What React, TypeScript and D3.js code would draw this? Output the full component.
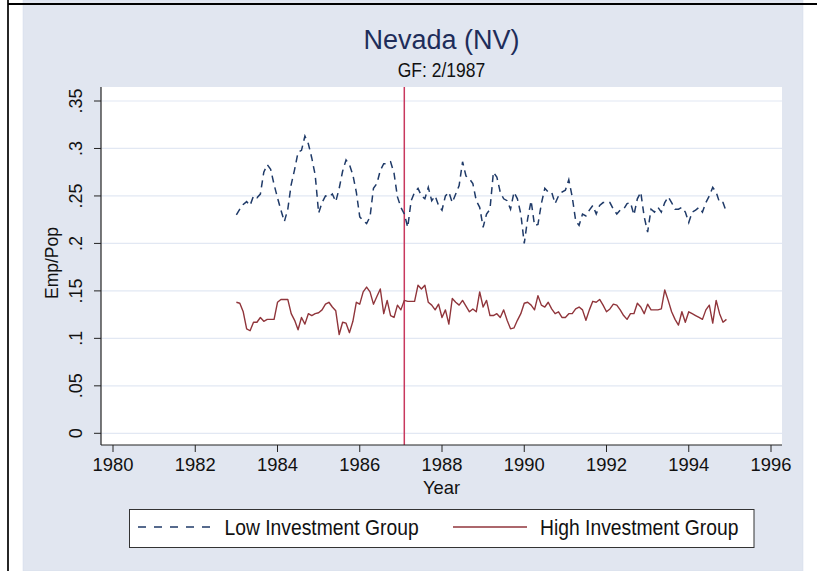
import * as d3 from 'd3';

// Monthly Emp/Pop, Jan 1983 .. Dec 1994
const startYear = 1983;
const lowGroup = [
  0.230, 0.236, 0.241, 0.244, 0.240, 0.250, 0.248, 0.252, 0.275, 0.283, 0.278, 0.262,
  0.248, 0.235, 0.223, 0.236, 0.262, 0.278, 0.296, 0.298, 0.313, 0.305, 0.290, 0.272,
  0.232, 0.243, 0.250, 0.249, 0.252, 0.244, 0.258, 0.276, 0.288, 0.283, 0.272, 0.254,
  0.228, 0.224, 0.221, 0.228, 0.258, 0.263, 0.277, 0.284, 0.284, 0.286, 0.274, 0.249,
  0.238, 0.231, 0.217, 0.245, 0.254, 0.258, 0.250, 0.247, 0.259, 0.245, 0.250, 0.240,
  0.235, 0.250, 0.254, 0.243, 0.252, 0.261, 0.286, 0.271, 0.268, 0.263, 0.245, 0.238,
  0.217, 0.231, 0.236, 0.275, 0.270, 0.254, 0.247, 0.245, 0.236, 0.254, 0.247, 0.231,
  0.200, 0.226, 0.245, 0.219, 0.220, 0.242, 0.258, 0.254, 0.254, 0.242, 0.250, 0.254,
  0.256, 0.267, 0.249, 0.224, 0.219, 0.231, 0.229, 0.235, 0.240, 0.231, 0.240, 0.243,
  0.243, 0.243, 0.236, 0.231, 0.235, 0.236, 0.242, 0.243, 0.230, 0.247, 0.254, 0.228,
  0.212, 0.236, 0.233, 0.238, 0.233, 0.243, 0.249, 0.243, 0.236, 0.236, 0.238, 0.233,
  0.222, 0.233, 0.235, 0.238, 0.233, 0.243, 0.250, 0.259, 0.254, 0.243, 0.243, 0.233,
];
const highGroup = [
  0.138, 0.137, 0.128, 0.110, 0.108, 0.117, 0.117, 0.122, 0.118, 0.120, 0.120, 0.120,
  0.138, 0.141, 0.141, 0.141, 0.126, 0.119, 0.109, 0.122, 0.115, 0.126, 0.124, 0.126,
  0.127, 0.130, 0.136, 0.138, 0.133, 0.129, 0.104, 0.117, 0.116, 0.106, 0.118, 0.138,
  0.136, 0.149, 0.154, 0.149, 0.136, 0.144, 0.152, 0.126, 0.140, 0.124, 0.122, 0.135,
  0.130, 0.140, 0.139, 0.139, 0.139, 0.156, 0.152, 0.156, 0.138, 0.135, 0.130, 0.136,
  0.122, 0.130, 0.115, 0.142, 0.138, 0.135, 0.140, 0.134, 0.128, 0.131, 0.128, 0.149,
  0.133, 0.140, 0.124, 0.124, 0.126, 0.122, 0.130, 0.119, 0.110, 0.111, 0.119, 0.126,
  0.137, 0.138, 0.135, 0.130, 0.145, 0.135, 0.133, 0.138, 0.131, 0.126, 0.128, 0.122,
  0.122, 0.126, 0.126, 0.131, 0.133, 0.130, 0.119, 0.130, 0.139, 0.138, 0.141, 0.135,
  0.128, 0.131, 0.136, 0.135, 0.130, 0.124, 0.120, 0.126, 0.126, 0.137, 0.133, 0.126,
  0.136, 0.130, 0.130, 0.130, 0.131, 0.151, 0.140, 0.128, 0.120, 0.114, 0.128, 0.117,
  0.128, 0.126, 0.124, 0.122, 0.120, 0.130, 0.135, 0.116, 0.140, 0.126, 0.117, 0.120,
];
const yTicks = [0, 0.05, 0.1, 0.15, 0.2, 0.25, 0.3, 0.35];
const xTicks = [1980, 1982, 1984, 1986, 1988, 1990, 1992, 1994, 1996];
const gfDate = 1987 + 1 / 12;

const font = '"Liberation Sans", Arial, Helvetica, sans-serif';
const navy = '#1f3a68';
const maroon = '#90353b';
const stretch = 1.12; // the original text is a little taller than wide

const fmtY = (v: number) => (v === 0 ? '0' : d3.format('.2~f')(v).replace(/^0/, ''));

export default function App() {
  const plot = { left: 101, right: 782, top: 87, bottom: 445 };
  const x = d3.scaleLinear().domain([1980, 1996]).range([113, 771]);
  const y = d3.scaleLinear().domain([0, 0.35]).range([433.3, 101]);

  const line = d3
    .line<number>()
    .x((_, i) => x(startYear + i / 12))
    .y((d) => y(d));

  const tall = (tx: number, ty: number) => `translate(${tx},${ty}) scale(1,${stretch})`;

  return (
    <div style={{ position: 'fixed', left: 0, top: 0 }}>
      <svg width={817} height={571} style={{ display: 'block', fontFamily: font }}>
        <rect x={0} y={0} width={817} height={571} fill="#fff" />
        <rect x={23} y={0} width={780} height={571} fill="#e1e6f0" stroke="#d3dbe9" strokeWidth={0.5} />
        <line x1={8} x2={817} y1={4} y2={4} stroke="#000" strokeWidth={2} />
        <line x1={8} x2={8} y1={0} y2={571} stroke="#000" strokeWidth={1.7} />

        {/* plot region */}
        <rect
          x={plot.left}
          y={plot.top}
          width={plot.right - plot.left}
          height={plot.bottom - plot.top}
          fill="#fff"
        />
        {yTicks.map((t) => (
          <line
            key={'g' + t}
            x1={plot.left}
            x2={plot.right}
            y1={y(t)}
            y2={y(t)}
            stroke="#e2e8f3"
            strokeWidth={1.2}
          />
        ))}

        <line x1={x(gfDate)} x2={x(gfDate)} y1={plot.top} y2={plot.bottom} stroke="#c8385e" strokeWidth={1.5} />

        <path d={line(highGroup) ?? ''} fill="none" stroke={maroon} strokeWidth={1.4} strokeLinejoin="round" />
        <path
          d={line(lowGroup) ?? ''}
          fill="none"
          stroke={navy}
          strokeWidth={1.5}
          strokeDasharray="7,5"
        />

        {/* axes */}
        <line x1={plot.left} x2={plot.left} y1={plot.top} y2={plot.bottom} stroke="#222" strokeWidth={1.2} />
        <line x1={plot.left} x2={plot.right} y1={plot.bottom} y2={plot.bottom} stroke="#222" strokeWidth={1.2} />
        {yTicks.map((t) => (
          <g key={'y' + t}>
            <line x1={94} x2={plot.left} y1={y(t)} y2={y(t)} stroke="#222" strokeWidth={1} />
            <text
              transform={`translate(82,${y(t)}) rotate(-90)`}
              textAnchor="middle"
              fontSize={18}
              fill="#111"
            >
              {fmtY(t)}
            </text>
          </g>
        ))}
        {xTicks.map((t) => (
          <g key={'x' + t}>
            <line x1={x(t)} x2={x(t)} y1={plot.bottom} y2={plot.bottom + 7} stroke="#222" strokeWidth={1} />
            <text x={x(t)} y={471} textAnchor="middle" fontSize={18.4} fill="#111">
              {t}
            </text>
          </g>
        ))}
        <text x={441.5} y={494} textAnchor="middle" fontSize={18.4} fill="#111">
          Year
        </text>
        <text transform="translate(58,263) rotate(-90)" textAnchor="middle" fontSize={17.5} fill="#111">
          Emp/Pop
        </text>

        {/* titles */}
        <text x={441.5} y={49} textAnchor="middle" fontSize={27} fill="#1e2d5a">
          Nevada (NV)
        </text>
        <text transform={tall(441.5, 77)} textAnchor="middle" fontSize={17.5} fill="#111">
          GF: 2/1987
        </text>

        {/* legend */}
        <rect x={129.5} y={509.5} width={624.5} height={38} fill="#fff" stroke="#333" strokeWidth={1} />
        <line x1={138} x2={213} y1={527} y2={527} stroke={navy} strokeWidth={1.5} strokeDasharray="8,8" />
        <text transform={tall(224.5, 534.5)} fontSize={19.3} fill="#111">
          Low Investment Group
        </text>
        <line x1={453} x2={527} y1={527} y2={527} stroke={maroon} strokeWidth={1.5} />
        <text transform={tall(540, 534.5)} fontSize={19.3} fill="#111">
          High Investment Group
        </text>
      </svg>
    </div>
  );
}
